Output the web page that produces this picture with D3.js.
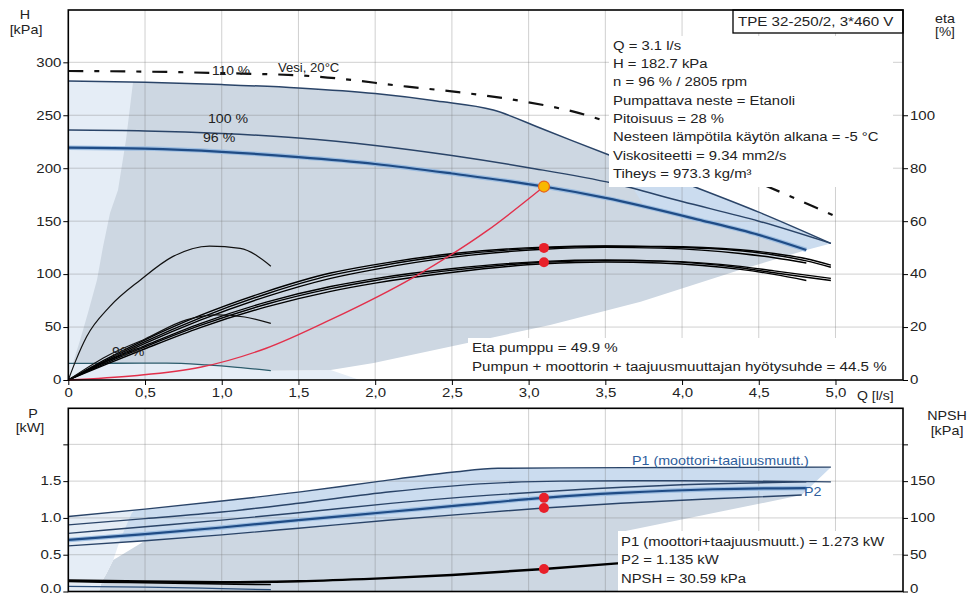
<!DOCTYPE html>
<html>
<head>
<meta charset="utf-8">
<script src="https://cdn.jsdelivr.net/npm/d3@7"></script>
<style>
  body { margin: 0; background: #fff; }
  svg { display: block; font-family: "Liberation Sans", Arial, sans-serif; }
</style>
</head>
<body>
<svg id="chart" width="971" height="595"></svg>
<script>
// ---------- axis ticks ----------
const qTicks = [0, 0.5, 1, 1.5, 2, 2.5, 3, 3.5, 4, 4.5, 5];
const qTickLabels = ["0", "0,5", "1,0", "1,5", "2,0", "2,5", "3,0", "3,5", "4,0", "4,5", "5,0"];
const hTicks = [0, 50, 100, 150, 200, 250, 300];
const etaTicks = [0, 20, 40, 60, 80, 100];
const pTicks = [0, 0.5, 1, 1.5, 2];
const pTickLabels = ["0.0", "0.5", "1.0", "1.5", ""];
const npshTicks = [0, 50, 100, 150, 200];
const npshTickLabels = ["0", "50", "100", "150", ""];

// ---------- head curves [Q l/s, H kPa] ----------
const head110 = [[0,282.3],[0.5,281.2],[1.0,279],[1.5,275.8],[2.0,270.5],[2.4,263.5],[2.77,255],[3.1,236.5],[3.55,211],[4.1,181.3],[4.5,158.5],[4.97,129]];
const head100 = [[0,236],[0.5,235.2],[1.0,232.8],[1.5,228.5],[2.0,221.5],[2.5,212],[3.0,200.5],[3.55,185.7],[4.0,168.5],[4.5,150],[4.97,129]];
const head96  = [[0,219.4],[0.5,218.5],[1.0,215.5],[1.5,210.5],[2.0,204],[2.5,195],[3.1,182.7],[3.5,172],[4.12,151],[4.5,137],[4.81,122.8]];
const headMin = [[0,15.7],[0.3,15.8],[0.64,15.9],[0.9,14.2],[1.1,12],[1.32,8.8]];
const headWater = [[0,291.8],[0.5,291.2],[1.0,289.8],[1.58,287],[2.21,277],[2.59,271],[2.99,262.5],[3.33,252],[3.51,244],[4.0,217],[4.66,176.3],[4.86,163.6],[5.03,152.7]];
const systemCurve = [[0,0],[0.43,4],[0.86,12],[1.29,30],[1.71,57],[2.25,97],[2.73,141],[3.1,182.7]];

// operating range edges [Q, H]
const rangeLeftEdge = [[0.03,15.7],[0.077,37.8],[0.128,63.3],[0.187,94.4],[0.226,125.6],[0.272,157.7],[0.324,179.4],[0.376,226.6],[0.422,281.3]];
const rangeTopJoin = [[3.75,165]];
const rangeLowerEdge = [[4.81,122.8],[4.38,104],[3.73,74],[3.14,52],[2.6,35],[1.99,16],[1.71,9.5],[1.32,8.8]];

// ---------- efficiency curves [Q, eta %] ----------
const etaPumpA = [[0,0],[0.25,7.5],[0.5,14.5],[0.86,23.5],[1.29,32.5],[1.71,39.5],[2.0,42.8],[2.51,47.2],[3.1,49.9],[3.5,50.5],[3.86,50.4],[4.38,49.2],[4.6,47.8],[4.81,45.8],[4.97,43.4]];
const etaPumpB = [[0,0],[0.25,7],[0.5,13.8],[0.86,22.6],[1.29,31.5],[1.71,38.4],[2.0,41.8],[2.51,46.4],[3.1,49.4],[3.5,50.1],[3.86,49.8],[4.38,47.8],[4.6,46.2],[4.81,44.2]];
const etaPumpC = [[0,0],[0.25,8],[0.5,15.2],[0.86,24.4],[1.29,33.4],[1.71,40.4],[2.0,43.6],[2.51,47.8],[3.1,50.2],[3.5,50.6],[3.86,50.3],[4.38,48.8],[4.6,47.2],[4.81,45],[4.97,42.6]];
const etaTotalA = [[0,0],[0.25,6.5],[0.5,12.5],[0.86,20.6],[1.29,28.6],[1.71,34.5],[2.0,37.6],[2.51,41.5],[3.1,44.5],[3.5,45.1],[3.86,44.9],[4.38,42.9],[4.6,41.2],[4.81,39.6],[4.97,38.4]];
const etaTotalB = [[0,0],[0.25,6],[0.5,11.8],[0.86,19.8],[1.29,27.6],[1.71,33.5],[2.0,36.6],[2.51,40.7],[3.1,43.9],[3.5,44.6],[3.86,44.2],[4.38,41.8],[4.6,39.9],[4.81,37.6]];
const etaTotalC = [[0,0],[0.25,7],[0.5,13],[0.86,21.3],[1.29,29.4],[1.71,35.3],[2.0,38.3],[2.51,42.1],[3.1,44.8],[3.5,45.3],[3.86,44.9],[4.38,42.4],[4.6,40.5],[4.81,38.8],[4.97,37.6]];
const etaMinPump = [[0,0],[0.05,7.5],[0.12,16.4],[0.27,27.7],[0.47,37.8],[0.68,46.6],[0.92,50.6],[1.12,49.7],[1.32,43]];
const etaMinTotal = [[0,0],[0.25,9],[0.5,15.5],[0.77,22.7],[0.97,24.6],[1.15,23.8],[1.32,21.4]];

// ---------- power [Q, kW] and NPSH [Q, kPa] ----------
const powerP1Max = [[0,1.02],[0.5,1.12],[1.0,1.23],[1.5,1.35],[2.0,1.49],[2.5,1.62],[2.8,1.675],[3.2,1.68],[4.0,1.685],[4.97,1.69]];
const powerP1Nom = [[0,0.905],[0.5,0.99],[1.0,1.08],[1.5,1.2],[2.1,1.356],[2.75,1.47],[3.2,1.5],[4.0,1.505],[4.97,1.49]];
const powerP2Nom = [[0,0.79],[0.5,0.88],[1.0,0.97],[1.5,1.07],[2.1,1.198],[2.75,1.31],[3.2,1.37],[4.0,1.45],[4.81,1.49]];
const powerP1Op = [[0,0.70],[0.5,0.78],[1.0,0.87],[1.5,0.97],[2.1,1.084],[2.6,1.18],[3.1,1.273],[3.6,1.34],[4.2,1.39],[4.81,1.406]];
const powerP2Op = [[0,0.62],[0.5,0.69],[1.0,0.77],[1.5,0.86],[2.1,0.971],[2.6,1.055],[3.1,1.135],[3.6,1.2],[4.2,1.26],[4.78,1.311]];
const powerMin = [[0,0.07],[0.5,0.06],[1.0,0.04],[1.32,0.025]];
const powerLeftEdge = [[0.2,0],[0.218,0.133],[0.25,0.247],[0.293,0.428],[0.337,0.70],[0.413,1.062],[0.43,1.105]];
const powerLowerEdge = [[3.6,0.81],[3.6,0]];
const npshCurve = [[0,15],[0.5,13.5],[1.0,12.8],[1.5,14],[2.0,17.5],[2.5,22.5],[3.1,30.59],[3.6,38.5]];
const npshMin = [[0,13.5],[0.4,12.2],[0.9,10.5],[1.32,9.5]];

// ---------- duty point ----------
const dutyQ = 3.1, dutyH = 182.7, dutyEtaPump = 49.9, dutyEtaTotal = 44.5;
const dutyP1 = 1.273, dutyP2 = 1.135, dutyNPSH = 30.59;

const titleText = "TPE 32-250/2, 3*460 V";
const infoLines = ["Q = 3.1 l/s", "H = 182.7 kPa", "n = 96 % / 2805 rpm", "Pumpattava neste = Etanoli",
  "Pitoisuus = 28 %", "Nesteen lämpötila käytön alkana = -5 °C", "Viskositeetti = 9.34 mm2/s", "Tiheys = 973.3 kg/m³"];
const etaLines = ["Eta pumppu = 49.9 %", "Pumpun + moottorin + taajuusmuuttajan hyötysuhde = 44.5 %"];
const powerLines = ["P1 (moottori+taajuusmuutt.) = 1.273 kW", "P2 = 1.135 kW", "NPSH = 30.59 kPa"];

// ---------- layout ----------
const svg = d3.select("#chart");
const L = 68.3, R = 903;
const T1 = 10, B1 = 380, T2 = 408.3, B2 = 591.5;

const x = d3.scaleLinear().domain([0, 5.44]).range([L, R]);
const yH = d3.scaleLinear().domain([0, 349.4]).range([B1, T1]);
const yEta = d3.scaleLinear().domain([0, 349.4 * 0.4]).range([B1, T1]);
const yP = d3.scaleLinear().domain([0, 2.49]).range([B2, T2]);
const yN = d3.scaleLinear().domain([0, 249]).range([B2, T2]);

const C = {
  pale: "#e5edf6", range: "#cdd7e2", band: "#cbdcef", grid: "rgba(120,120,120,0.35)",
  navy: "#2a4468", blue: "#1f4c86", halo: "#9dbde0", red: "#e2304b", dot: "#e8202a", text: "#222"
};

function lineOf(xs, ys, curve) {
  return d3.line().x(d => xs(d[0])).y(d => ys(d[1])).curve(curve || d3.curveMonotoneX);
}
// joins several point runs into one closed outline
function outline(xs, ys, runs) {
  let d = "";
  runs.forEach((run, i) => {
    const seg = lineOf(xs, ys, run.curve || d3.curveLinear)(run.pts).replace(/Z/g, "");
    d += i === 0 ? seg : "L" + seg.slice(1);
  });
  return d + "Z";
}
function txt(g, px, py, s, o) {
  o = o || {};
  return g.append("text")
    .attr("transform", `translate(${px},${py}) scale(${o.sx || 1.12},1)`)
    .attr("font-size", o.size || 13)
    .attr("text-anchor", o.anchor || "start")
    .attr("dy", "0.35em")
    .attr("fill", o.fill || C.text)
    .text(s);
}
function styleAxis(g, sx, side) {
  g.select(".domain").remove();
  g.selectAll(".tick line").attr("stroke", "#000").attr("stroke-width", 1);
  g.selectAll(".tick text").attr("font-size", 12).attr("fill", C.text)
    .attr("font-family", "Liberation Sans, Arial, sans-serif")
    .each(function () {
      const t = d3.select(this);
      if (side === "x") { t.attr("transform", `scale(${sx},1)`); }
      else { t.attr("x", (+t.attr("x")) / sx).attr("transform", `scale(${sx},1)`); }
    });
}
function drawCurve(g, data, ys, stroke, width, extra) {
  const p = g.append("path").attr("d", lineOf(x, ys)(data)).attr("fill", "none")
    .attr("stroke", stroke).attr("stroke-width", width).attr("stroke-linejoin", "round");
  if (extra) extra(p);
  return p;
}

// ================= upper panel: head & efficiency =================
const upper = svg.append("g");

// pale full-range area at low flow
upper.append("path").attr("fill", C.pale).attr("d", outline(x, yH, [
  { pts: head110.filter(d => d[0] <= 0.5), curve: d3.curveMonotoneX },
  { pts: [[0.5, 15.9]] },
  { pts: headMin.filter(d => d[0] >= 0.64) },
  { pts: [[1.71, 9.5], [1.9, 0], [0, 0]] }
]));
// light band between the maximum and duty-speed curves at high flow
upper.append("path").attr("fill", C.band).attr("d", outline(x, yH, [
  { pts: head110.filter(d => d[0] >= 3.1), curve: d3.curveMonotoneX },
  { pts: head96.filter(d => d[0] >= 3.1).reverse(), curve: d3.curveMonotoneX }
]));
// operating range
upper.append("path").attr("fill", C.range).attr("d", outline(x, yH, [
  { pts: rangeLeftEdge },
  { pts: head110.filter(d => d[0] > 0.43 && d[0] <= 3.55), curve: d3.curveMonotoneX },
  { pts: rangeTopJoin },
  { pts: head96.filter(d => d[0] > 3.75), curve: d3.curveMonotoneX },
  { pts: rangeLowerEdge },
  { pts: headMin.slice().reverse() }
]));

// grid
upper.append("g").selectAll("line").data(qTicks.slice(1)).join("line")
  .attr("x1", d => x(d)).attr("x2", d => x(d)).attr("y1", T1).attr("y2", B1)
  .attr("stroke", C.grid).attr("stroke-width", 1);
upper.append("g").selectAll("line").data(hTicks.slice(1)).join("line")
  .attr("x1", L).attr("x2", R).attr("y1", d => yH(d)).attr("y2", d => yH(d))
  .attr("stroke", C.grid).attr("stroke-width", 1);

// water reference curve
drawCurve(upper, headWater, yH, "#111", 2.2, p => p.attr("stroke-dasharray", "15,11,5,11"));

// head curves
drawCurve(upper, head110, yH, C.navy, 1.5);
drawCurve(upper, head100, yH, C.navy, 1.5);
drawCurve(upper, head96, yH, C.halo, 4.5);
drawCurve(upper, head96, yH, C.blue, 2.2);
drawCurve(upper, headMin, yH, "#2c5c6c", 1.3);

// efficiency curves
[etaPumpA, etaPumpB, etaPumpC, etaTotalA, etaTotalB, etaTotalC].forEach(s => drawCurve(upper, s, yEta, "#000", 1.4));
drawCurve(upper, etaMinPump, yEta, "#111", 1.2);
drawCurve(upper, etaMinTotal, yEta, "#111", 1.2);

// system curve
drawCurve(upper, systemCurve, yH, C.red, 1.4);

// curve labels
txt(upper, 212, 71, "110 %", { size: 12, sx: 1.15 });
txt(upper, 278, 68, "Vesi, 20°C", { size: 12.5, sx: 1.05 });
txt(upper, 208, 119, "100 %", { size: 12, sx: 1.18 });
txt(upper, 203, 138, "96 %", { size: 12, sx: 1.18 });
txt(upper, 112, 352, "96 %", { size: 12, sx: 1.18 });

// info panels
upper.append("rect").attr("x", 609).attr("y", 36).attr("width", 284).attr("height", 151).attr("fill", "#fff");
infoLines.forEach((s, i) => txt(upper, 613, 45 + i * 18.3, s, { size: 13.5, sx: 1.1 }));
upper.append("rect").attr("x", 468).attr("y", 338).attr("width", 425).attr("height", 41).attr("fill", "#fff");
etaLines.forEach((s, i) => txt(upper, 472, 347 + i * 19, s, { size: 13.5, sx: 1.12 }));

// duty points
upper.append("circle").attr("cx", x(dutyQ)).attr("cy", yEta(dutyEtaPump)).attr("r", 5).attr("fill", C.dot);
upper.append("circle").attr("cx", x(dutyQ)).attr("cy", yEta(dutyEtaTotal)).attr("r", 5).attr("fill", C.dot);
upper.append("circle").attr("cx", x(dutyQ)).attr("cy", yH(dutyH)).attr("r", 5.5)
  .attr("fill", "#f8b800").attr("stroke", "#e8641a").attr("stroke-width", 1.2);

// title box
upper.append("rect").attr("x", 733).attr("y", T1).attr("width", R - 733).attr("height", 23)
  .attr("fill", "#fff").attr("stroke", "#000").attr("stroke-width", 1.3);
txt(upper, 738, 21.5, titleText, { size: 13.5, sx: 1.12 });

// frame and axes
upper.append("rect").attr("x", L).attr("y", T1).attr("width", R - L).attr("height", B1 - T1)
  .attr("fill", "none").attr("stroke", "#000").attr("stroke-width", 1.6);
const axH = upper.append("g").attr("transform", `translate(${L},0)`)
  .call(d3.axisLeft(yH).tickValues(hTicks).tickSize(5).tickPadding(2));
styleAxis(axH, 1.25, "y");
const axEta = upper.append("g").attr("transform", `translate(${R},0)`)
  .call(d3.axisRight(yEta).tickValues(etaTicks).tickSize(5).tickPadding(2));
styleAxis(axEta, 1.25, "y");
const axQ = upper.append("g").attr("transform", `translate(0,${B1})`)
  .call(d3.axisBottom(x).tickValues(qTicks).tickFormat((d, i) => qTickLabels[i]).tickSize(5).tickPadding(3));
styleAxis(axQ, 1.25, "x");
txt(upper, 857, 395.5, "Q [l/s]", { size: 12, sx: 1.17 });

txt(upper, 25, 14, "H", { size: 13, sx: 1.1, anchor: "middle" });
txt(upper, 26, 30, "[kPa]", { size: 12.5, sx: 1.15, anchor: "middle" });
txt(upper, 945, 18, "eta", { size: 13, sx: 1.1, anchor: "middle" });
txt(upper, 945, 32, "[%]", { size: 12.5, sx: 1.1, anchor: "middle" });

// ================= lower panel: power & NPSH =================
const lower = svg.append("g");

lower.append("path").attr("fill", C.band).attr("d", outline(x, yP, [
  { pts: powerP1Max, curve: d3.curveMonotoneX },
  { pts: powerP2Op.slice().reverse(), curve: d3.curveMonotoneX }
]));
lower.append("path").attr("fill", C.range).attr("d", outline(x, yP, [
  { pts: powerLeftEdge.filter(d => d[1] <= 0.5) },
  { pts: powerP2Op.filter(d => d[0] >= 0.5), curve: d3.curveMonotoneX },
  { pts: powerLowerEdge }
]));
lower.append("path").attr("fill", C.pale).attr("d", outline(x, yP, [
  { pts: [[0, 0], [0, powerP1Max[0][1]]] },
  { pts: powerLeftEdge.slice().reverse() }
]));

lower.append("g").selectAll("line").data(qTicks.slice(1)).join("line")
  .attr("x1", d => x(d)).attr("x2", d => x(d)).attr("y1", T2).attr("y2", B2)
  .attr("stroke", C.grid).attr("stroke-width", 1);
lower.append("g").selectAll("line").data(pTicks.slice(1)).join("line")
  .attr("x1", L).attr("x2", R).attr("y1", d => yP(d)).attr("y2", d => yP(d))
  .attr("stroke", C.grid).attr("stroke-width", 1);

drawCurve(lower, powerP1Max, yP, C.navy, 1.4);
drawCurve(lower, powerP1Nom, yP, C.navy, 1.4);
drawCurve(lower, powerP2Nom, yP, C.navy, 1.4);
drawCurve(lower, powerP1Op, yP, C.halo, 4.5);
drawCurve(lower, powerP1Op, yP, C.blue, 2.2);
drawCurve(lower, powerP2Op, yP, C.navy, 1.4);
drawCurve(lower, powerMin, yP, "#2c4f7a", 1.2);
drawCurve(lower, npshMin, yN, "#000", 1.6);
drawCurve(lower, npshCurve, yN, "#000", 2.4);

txt(lower, 632, 460, "P1 (moottori+taajuusmuutt.)", { size: 13, sx: 1.1, fill: "#2d5d9c" });
txt(lower, 804, 491, "P2", { size: 13, sx: 1.1, fill: "#2d5d9c" });

lower.append("rect").attr("x", 618).attr("y", 531).attr("width", 275).attr("height", B2 - 531).attr("fill", "#fff");
powerLines.forEach((s, i) => txt(lower, 621, 541 + i * 18.5, s, { size: 13.5, sx: 1.1 }));

lower.append("circle").attr("cx", x(dutyQ)).attr("cy", yP(dutyP1)).attr("r", 5).attr("fill", C.dot);
lower.append("circle").attr("cx", x(dutyQ)).attr("cy", yP(dutyP2)).attr("r", 5).attr("fill", C.dot);
lower.append("circle").attr("cx", x(dutyQ)).attr("cy", yN(dutyNPSH)).attr("r", 5).attr("fill", C.dot);

lower.append("rect").attr("x", L).attr("y", T2).attr("width", R - L).attr("height", B2 - T2)
  .attr("fill", "none").attr("stroke", "#000").attr("stroke-width", 1.6);
const axP = lower.append("g").attr("transform", `translate(${L},0)`)
  .call(d3.axisLeft(yP).tickValues(pTicks).tickFormat((d, i) => pTickLabels[i]).tickSize(5).tickPadding(2));
styleAxis(axP, 1.25, "y");
const axN = lower.append("g").attr("transform", `translate(${R},0)`)
  .call(d3.axisRight(yN).tickValues(npshTicks).tickFormat((d, i) => npshTickLabels[i]).tickSize(5).tickPadding(2));
styleAxis(axN, 1.25, "y");
// keep the zero labels inside the page
[axP, axN].forEach(a => a.selectAll(".tick text").filter(d => d === 0).attr("dy", "0.1em"));

txt(lower, 33, 413, "P", { size: 13, sx: 1.1, anchor: "middle" });
txt(lower, 30, 428, "[kW]", { size: 12.5, sx: 1.15, anchor: "middle" });
txt(lower, 947, 415, "NPSH", { size: 13, sx: 1.1, anchor: "middle" });
txt(lower, 947, 431, "[kPa]", { size: 12.5, sx: 1.15, anchor: "middle" });
</script>
</body>
</html>
